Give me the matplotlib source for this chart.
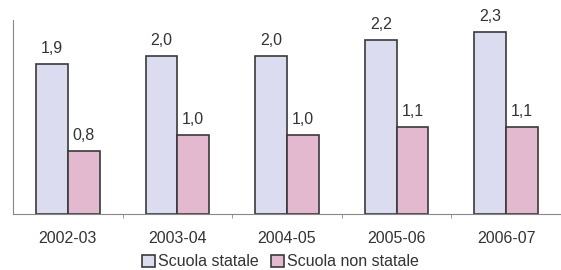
import matplotlib
matplotlib.use("Agg")
import matplotlib.pyplot as plt
import numpy as np

plt.rcParams["font.family"] = ["Liberation Sans", "DejaVu Sans"]

anni = ["2002-03", "2003-04", "2004-05", "2005-06", "2006-07"]
statale = [1.9, 2.0, 2.0, 2.2, 2.3]
non_statale = [0.8, 1.0, 1.0, 1.1, 1.1]

col_stat = "#dcdcf0"
col_non = "#e2b9cf"
edge = "#3a3a3a"

fig = plt.figure(figsize=(5.61, 2.70), dpi=100)
ax = fig.add_axes([13 / 561, 1 - 214 / 270, 548 / 561, 194 / 270])

x = np.arange(len(anni))
w = 0.29
b1 = ax.bar(x - w / 2, statale, w, color=col_stat, edgecolor=edge, linewidth=1.2,
            label="Scuola statale")
b2 = ax.bar(x + w / 2, non_statale, w, color=col_non, edgecolor=edge, linewidth=1.2,
            label="Scuola non statale")

for bars, vals in ((b1, statale), (b2, non_statale)):
    for r, v in zip(bars, vals):
        ax.text(r.get_x() + r.get_width() / 2, v + 0.1, f"{v:.1f}".replace(".", ","),
                ha="center", va="bottom", fontsize=11.5, color="#333333")

ax.set_xlim(-0.5, len(anni) - 0.5)
ax.set_ylim(0, 2.45)
ax.set_yticks([])
ax.set_xticks(x)
ax.set_xticklabels(anni, fontsize=11.5, color="#333333")
ax.set_xticks(x[:-1] + 0.5, minor=True)
ax.tick_params(axis="x", which="major", length=0, pad=12)
ax.tick_params(axis="x", which="minor", length=3, color="#888888")
for s in ("top", "right"):
    ax.spines[s].set_visible(False)
ax.spines["left"].set_color("#888888")
ax.spines["bottom"].set_color("#888888")

fig.legend(loc="lower center", bbox_to_anchor=(0.5, -0.045), ncol=2, frameon=False,
           fontsize=11.5, handlelength=0.8, handleheight=0.8, handletextpad=0.2,
           columnspacing=0.8, labelcolor="#333333", borderpad=0.3)

fig.savefig("out.png", dpi=100)
